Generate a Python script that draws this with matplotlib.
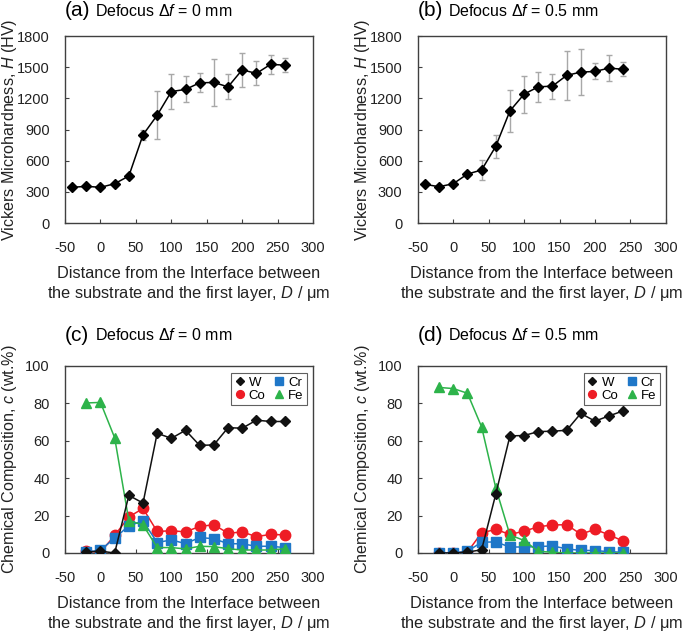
"""Microhardness and composition profiles across the interface."""

import matplotlib
matplotlib.use("Agg")
import matplotlib.pyplot as plt

plt.rcParams["font.family"] = ["Liberation Sans", "DejaVu Sans"]
plt.rcParams["mathtext.fontset"] = "custom"
plt.rcParams["mathtext.rm"] = "Liberation Sans"
plt.rcParams["mathtext.it"] = "Liberation Sans:italic"
plt.rcParams["axes.unicode_minus"] = False

# Hardness, defocus 0 mm
dist_a = [-40, -20, 0, 20, 40, 60, 80, 100, 120, 140, 160, 180, 200, 220, 240, 260]
hv_a = [344, 354, 344, 379, 453, 849, 1038, 1266, 1286, 1350, 1353, 1311, 1475, 1440, 1527, 1520]
err_a = [0, 0, 0, 10, 15, 45, 230, 170, 125, 90, 230, 120, 165, 115, 90, 65]

# Hardness, defocus 0.5 mm
dist_b = [-40, -20, 0, 20, 40, 60, 80, 100, 120, 140, 160, 180, 200, 220, 240]
hv_b = [373, 350, 379, 472, 511, 739, 1080, 1241, 1311, 1318, 1421, 1453, 1459, 1492, 1479]
err_b = [0, 0, 0, 15, 100, 108, 200, 178, 143, 120, 233, 223, 77, 122, 67]

# Composition, defocus 0 mm
dist_c = [-20, 0, 20, 40, 60, 80, 100, 120, 140, 160, 180, 200, 220, 240, 260]
w_c = [0.5, 1.0, 0.0, 30.8, 26.7, 64.0, 61.3, 65.6, 57.5, 57.8, 67.0, 66.7, 71.0, 70.3, 70.3]
co_c = [1.0, 0.4, 9.4, 19.3, 23.8, 11.5, 11.9, 11.3, 14.2, 15.1, 10.6, 11.2, 8.8, 9.9, 9.7]
cr_c = [0.4, 1.6, 7.9, 14.6, 17.1, 5.6, 7.0, 5.0, 8.3, 7.6, 5.0, 4.9, 3.6, 3.6, 2.9]
fe_c = [80.2, 80.5, 61.6, 17.3, 15.0, 2.9, 2.9, 2.2, 3.6, 3.4, 2.3, 1.6, 1.6, 1.6, 2.3]

# Composition, defocus 0.5 mm
dist_d = [-20, 0, 20, 40, 60, 80, 100, 120, 140, 160, 180, 200, 220, 240]
w_d = [0.0, 0.0, 0.5, 1.7, 31.5, 62.6, 62.8, 64.9, 65.1, 65.6, 74.6, 70.5, 73.3, 76.0]
co_d = [0.0, 0.0, 0.5, 10.8, 12.6, 9.9, 11.7, 14.0, 15.0, 15.1, 10.1, 12.6, 9.7, 6.3]
cr_d = [0.0, 0.0, 0.9, 5.8, 5.9, 3.2, 3.2, 3.4, 3.8, 2.2, 1.4, 1.3, 0.7, 0.4]
fe_d = [88.5, 87.9, 85.4, 67.4, 34.8, 9.6, 6.7, 0.9, 0.4, 0.0, 0.0, 0.0, 0.0, 0.0]

X_LABEL = "Distance from the Interface between\nthe substrate and the first layer, $D$ / μm"
SPINE = "#404040"
TEXT = "#222222"


def style_axes(ax, ylim, yticks):
    """Common frame, ticks and x label."""
    ax.set_xlim(-50, 300)
    ax.set_xticks(range(-50, 301, 50))
    ax.set_ylim(*ylim)
    ax.set_yticks(yticks)
    for s in ax.spines.values():
        s.set_color(SPINE)
        s.set_linewidth(1.0)
    ax.tick_params(direction="in", length=3, width=0.8, color=SPINE,
                   labelsize=10.5, labelcolor=TEXT)
    ax.tick_params(axis="x", pad=13)
    ax.tick_params(axis="y", pad=11)
    ax.set_xlabel(X_LABEL, fontsize=11.8, color=TEXT, labelpad=8)


def panel_title(ax, tag, defocus, y):
    ax.text(0.0, y, tag, transform=ax.transAxes, fontsize=15, va="center", ha="left")
    ax.text(0.122, y, f"Defocus $\\mathit{{Δf}}$ = {defocus} mm", transform=ax.transAxes,
            fontsize=11.5, va="center", ha="left")


def hardness(ax, x, y, err, tag, defocus):
    ax.errorbar(x, y, yerr=err, fmt="none", ecolor="#a8a8a8", elinewidth=1.0,
                capsize=2.5, capthick=1.0, zorder=1)
    ax.plot(x, y, color="black", lw=1.1, marker="D", ms=5.2, zorder=2)
    style_axes(ax, (0, 1800), range(0, 1801, 300))
    ax.set_ylabel("Vickers Microhardness, $H$ (HV)", fontsize=11.6, color=TEXT)
    ax.yaxis.set_label_coords(-0.185, 0.5)
    panel_title(ax, tag, defocus, 1.135)


def composition(ax, x, w, co, cr, fe, tag, defocus):
    ax.plot(x, w, color="#111111", lw=1.1, marker="D", ms=5.2, label="W", zorder=5)
    ax.plot(x, co, color="#ee1c25", lw=1.1, marker="o", ms=7.5, label="Co", zorder=2)
    ax.plot(x, cr, color="#1f77c8", lw=1.1, marker="s", ms=7, label="Cr", zorder=3)
    ax.plot(x, fe, color="#2db34a", lw=1.1, marker="^", ms=7, label="Fe", zorder=4)
    style_axes(ax, (0, 100), range(0, 101, 20))
    ax.set_ylabel("Chemical Composition, $c$ (wt.%)", fontsize=11.6, color=TEXT)
    ax.yaxis.set_label_coords(-0.185, 0.5)
    leg = ax.legend(ncol=2, loc="upper right", bbox_to_anchor=(0.975, 0.96),
                    fontsize=9.5, markerscale=0.75, handlelength=0.8,
                    handletextpad=0.3, columnspacing=0.6, labelspacing=0.05,
                    borderpad=0.25, fancybox=False, framealpha=1,
                    edgecolor="#606060", borderaxespad=0.0)
    for h in leg.legend_handles:
        h.set_linestyle("none")
    leg.get_frame().set_linewidth(0.8)
    panel_title(ax, tag, defocus, 1.165)


fig = plt.figure(figsize=(6.85, 6.32), dpi=100)
W_AX, H_AX = 0.362, 0.296
ax_a = fig.add_axes([0.095, 0.647, W_AX, H_AX])
ax_b = fig.add_axes([0.610, 0.647, W_AX, H_AX])
ax_c = fig.add_axes([0.095, 0.125, W_AX, H_AX])
ax_d = fig.add_axes([0.610, 0.125, W_AX, H_AX])

hardness(ax_a, dist_a, hv_a, err_a, "(a)", "0")
hardness(ax_b, dist_b, hv_b, err_b, "(b)", "0.5")
composition(ax_c, dist_c, w_c, co_c, cr_c, fe_c, "(c)", "0")
composition(ax_d, dist_d, w_d, co_d, cr_d, fe_d, "(d)", "0.5")

fig.savefig("out.png", dpi=100)
